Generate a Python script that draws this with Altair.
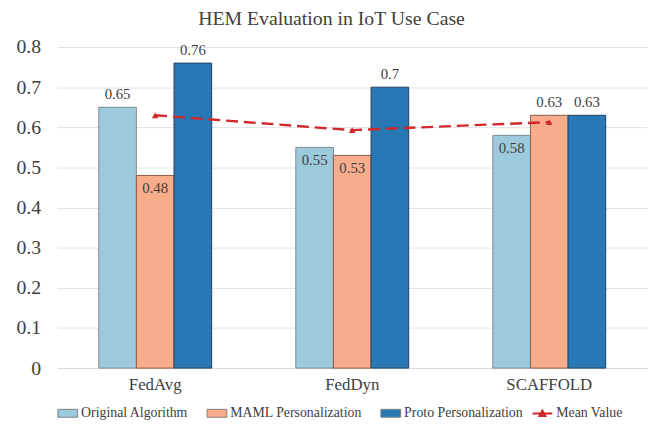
import altair as alt
import pandas as pd

algorithms = ["FedAvg", "FedDyn", "SCAFFOLD"]
series = ["Original Algorithm", "MAML Personalization", "Proto Personalization"]
original = [0.65, 0.55, 0.58]
maml = [0.48, 0.53, 0.63]
proto = [0.76, 0.70, 0.63]
mean_value = [0.63, 0.593, 0.613]
# where each bar's data label sits: True = just inside the bar top
label_inside = [
    [False, True, False],
    [True, True, False],
    [True, False, False],
]

fills = ["#9DC9DC", "#F7AC8B", "#2878B5"]
outlines = ["#7F8C92", "#8C5A44", "#1F3F63"]
red = "#D0282B"
font = "Times New Roman, Liberation Serif, serif"

rows = []
for i, alg in enumerate(algorithms):
    for j, (s, vals) in enumerate(zip(series, [original, maml, proto])):
        rows.append({"alg": alg, "series": s, "value": vals[i],
                     "label": f"{vals[i]:g}", "inside": label_inside[i][j]})
bars_df = pd.DataFrame(rows)
mean_df = pd.DataFrame({"alg": algorithms, "value": mean_value,
                        "kind": ["Mean Value"] * 3})

x = alt.X("alg:N", sort=algorithms, title=None,
          scale=alt.Scale(paddingInner=0.427, paddingOuter=0.21),
          axis=alt.Axis(labelAngle=0, labelFontSize=17, labelPadding=9,
                        ticks=False, domainColor="#D9D9D9", labelColor="#404040",
                        labelFont=font))
y = alt.Y("value:Q", title=None,
          scale=alt.Scale(domain=[0, 0.8], nice=False),
          axis=alt.Axis(values=[0, 0.1, 0.2, 0.3, 0.4, 0.5, 0.6, 0.7, 0.8],
                        format=".1~f", labelFontSize=20, labelPadding=17,
                        domain=False, ticks=False, gridColor="#E3E3E3",
                        labelColor="#404040", labelFont=font))

base = alt.Chart(bars_df)
bars = base.mark_bar(strokeWidth=1).encode(
    x=x,
    xOffset=alt.XOffset("series:N", sort=series),
    y=y,
    color=alt.Color("series:N", sort=series,
                    scale=alt.Scale(domain=series, range=fills),
                    legend=alt.Legend(title=None, orient="bottom", direction="horizontal",
                                      symbolType="M-1,-0.4H1V0.4H-1Z", symbolSize=400,
                                      symbolStrokeWidth=1, symbolStrokeColor="#7F7F7F",
                                      labelFontSize=14, labelColor="#404040",
                                      labelFont=font,
                                      columnPadding=16, labelOffset=3)),
    stroke=alt.Stroke("series:N", sort=series,
                      scale=alt.Scale(domain=series, range=outlines), legend=None),
)
text_above = base.transform_filter("!datum.inside").mark_text(
    dy=-13, fontSize=15, color="#404040", font=font).encode(
    x=alt.X("alg:N", sort=algorithms), xOffset=alt.XOffset("series:N", sort=series),
    y="value:Q", text="label:N")
text_inside = base.transform_filter("datum.inside").mark_text(
    dy=13, fontSize=15, color="#404040", font=font).encode(
    x=alt.X("alg:N", sort=algorithms), xOffset=alt.XOffset("series:N", sort=series),
    y="value:Q", text="label:N")

line = alt.Chart(mean_df).mark_line(strokeDash=[12, 6], strokeWidth=2.4).encode(
    x=alt.X("alg:N", sort=algorithms), y="value:Q",
    stroke=alt.Stroke("kind:N", scale=alt.Scale(domain=["Mean Value"], range=[red]),
                      legend=alt.Legend(title=None, orient="bottom",
                                        symbolType="M-1,0H1M-0.3,0.25L0,-0.3L0.3,0.25Z",
                                        symbolSize=400, symbolStrokeWidth=2,
                                        symbolFillColor=red,
                                        labelFontSize=14, labelFont=font,
                                        labelColor="#404040", labelOffset=3)),
)
pts = alt.Chart(mean_df).mark_point(shape="triangle-up", filled=True, size=45,
                                    color=red, opacity=1).encode(
    x=alt.X("alg:N", sort=algorithms), y="value:Q")

chart = alt.layer(bars, text_above, text_inside, line, pts).resolve_scale(
    stroke="independent"
).properties(
    width=597, height=325,
    title=alt.TitleParams("HEM Evaluation in IoT Use Case", fontSize=20, font=font,
                          fontWeight="normal", color="#404040", offset=8, dx=-21),
    padding={"left": 50, "top": 37, "right": 8, "bottom": 50},
    autosize=alt.AutoSizeParams(type="none"),
).configure(font=font).configure_axis(labelFont=font).configure_legend(
    offset=10, labelFont=font).configure_text(font=font).configure_view(stroke=None)

chart.save("out.html", embed_options={"renderer": "svg", "actions": False})
